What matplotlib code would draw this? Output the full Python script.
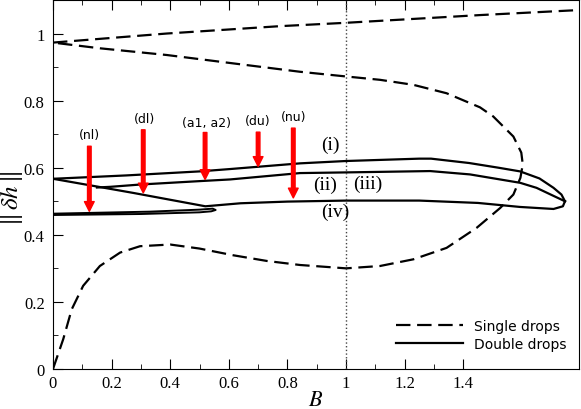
import matplotlib
matplotlib.use("Agg")
import matplotlib.pyplot as plt

plt.rcParams['font.family'] = ['Liberation Serif', 'DejaVu Serif']
plt.rcParams['mathtext.fontset'] = 'stix'

# single drops: lower branch -> fold -> back along the middle branch
single_x = [0, 0.035, 0.064, 0.103, 0.16, 0.229, 0.297, 0.40, 0.50, 0.615, 0.73, 0.843, 1.0,
            1.116, 1.23, 1.343, 1.446, 1.526, 1.571, 1.595, 1.603, 1.598, 1.571, 1.502, 1.457,
            1.343, 1.23, 1.116, 1.0, 0.843, 0.615, 0.388, 0.16, 0]
single_y = [0, 0.089, 0.178, 0.248, 0.307, 0.347, 0.366, 0.371, 0.359, 0.339, 0.322, 0.31, 0.30,
            0.307, 0.327, 0.361, 0.421, 0.48, 0.52, 0.57, 0.61, 0.645, 0.693, 0.753, 0.78,
            0.822, 0.847, 0.862, 0.872, 0.886, 0.911, 0.936, 0.956, 0.973]
# single drops: top branch
single_top_x = [0, 0.388, 0.775, 1.0, 1.457, 1.795]
single_top_y = [0.973, 1.0, 1.022, 1.032, 1.055, 1.07]

# double drops branches
d1_x = [0, 0.25, 0.5, 0.604, 0.843, 1.0, 1.25, 1.29, 1.42, 1.52, 1.594, 1.66, 1.708, 1.735, 1.747]
d1_y = [0.567, 0.577, 0.589, 0.596, 0.613, 0.62, 0.627, 0.627, 0.614, 0.60, 0.589, 0.568, 0.54, 0.52, 0.50]
d2_x = [1.747, 1.708, 1.65, 1.594, 1.423, 1.287, 1.0, 0.843, 0.604, 0.5, 0.3, 0.195, 0.15]
d2_y = [0.50, 0.516, 0.54, 0.555, 0.58, 0.59, 0.586, 0.584, 0.565, 0.56, 0.55, 0.543, 0.541]
d3_x = [0, 0.273, 0.52, 0.64, 0.8, 1.0, 1.25, 1.45, 1.594, 1.708, 1.74, 1.747]
d3_y = [0.567, 0.525, 0.485, 0.494, 0.499, 0.502, 0.502, 0.495, 0.483, 0.477, 0.485, 0.50]
d4_x = [0, 0.3, 0.5, 0.54, 0.555, 0.545, 0.5, 0.33, 0]
d4_y = [0.459, 0.462, 0.467, 0.47, 0.474, 0.478, 0.475, 0.469, 0.463]

# arrows
arrow_names = ['(nl)', '(dl)', '(a1, a2)', '(du)', '(nu)']
arrow_x = [0.124, 0.308, 0.519, 0.70, 0.82]
arrow_top = [0.664, 0.713, 0.705, 0.706, 0.718]
arrow_tip = [0.47, 0.525, 0.565, 0.604, 0.51]
arrow_lab_x = [0.126, 0.312, 0.524, 0.70, 0.82]
arrow_lab_y = [0.698, 0.746, 0.735, 0.74, 0.753]

roman = ['(i)', '(ii)', '(iii)', '(iv)']
roman_x = [0.945, 0.93, 1.073, 0.962]
roman_y = [0.669, 0.55, 0.552, 0.47]

fig = plt.figure(figsize=(5.81, 4.10), dpi=100)
ax = fig.add_axes([0.0912, 0.0976, 0.9054, 0.9000])

dash = (0, (6.5, 3))
ax.plot(single_x, single_y, color='black', lw=1.6, linestyle=dash, label='Single drops')
ax.plot(single_top_x, single_top_y, color='black', lw=1.6, linestyle=dash)
ax.plot(d1_x, d1_y, color='black', lw=1.6, label='Double drops')
ax.plot(d2_x, d2_y, color='black', lw=1.6)
ax.plot(d3_x, d3_y, color='black', lw=1.6)
ax.plot(d4_x, d4_y, color='black', lw=1.4)

ax.axvline(1.0, color='#444444', lw=1, linestyle=':')

for i in range(len(arrow_names)):
    ax.annotate('', xy=(arrow_x[i], arrow_tip[i]), xytext=(arrow_x[i], arrow_top[i]),
                arrowprops=dict(facecolor='red', edgecolor='red', width=2.6,
                                headwidth=7, headlength=7, shrink=0))
    ax.text(arrow_lab_x[i], arrow_lab_y[i], arrow_names[i], ha='center', va='center',
            fontsize=9, family='DejaVu Sans')

for i in range(len(roman)):
    ax.text(roman_x[i], roman_y[i], roman[i], ha='center', va='center', fontsize=14)

ax.set_xlim(0, 1.795)
ax.set_ylim(0, 1.1)
ax.set_xticks([0, 0.2, 0.4, 0.6, 0.8, 1.0, 1.2, 1.4])
ax.set_xticklabels(['0', '0.2', '0.4', '0.6', '0.8', '1', '1.2', '1.4'])
ax.set_xticks([0.1, 0.3, 0.5, 0.7, 0.9, 1.1, 1.3], minor=True)
ax.set_yticks([0, 0.2, 0.4, 0.6, 0.8, 1.0])
ax.set_yticklabels(['0', '0.2', '0.4', '0.6', '0.8', '1'])
ax.set_yticks([0.1, 0.3, 0.5, 0.7, 0.9], minor=True)
ax.tick_params(which='both', direction='in', top=True, right=False, labelsize=12)
ax.tick_params(which='major', length=7)
ax.tick_params(which='minor', length=3.5)
ax.tick_params(axis='x', pad=4)
ax.tick_params(axis='y', pad=6)

ax.set_xlabel('$B$', fontsize=16, labelpad=0)
ax.set_ylabel(r'$\|\,\delta h\,\|$', fontsize=18, va='center')
ax.yaxis.set_label_coords(-0.078, 0.465)

leg = ax.legend(loc='lower right', frameon=False, handlelength=4.8, fontsize=10,
                bbox_to_anchor=(1.0, 0.015), labelspacing=0.3)
for t in leg.get_texts():
    t.set_family('DejaVu Sans')

fig.savefig('out.png', dpi=100)
